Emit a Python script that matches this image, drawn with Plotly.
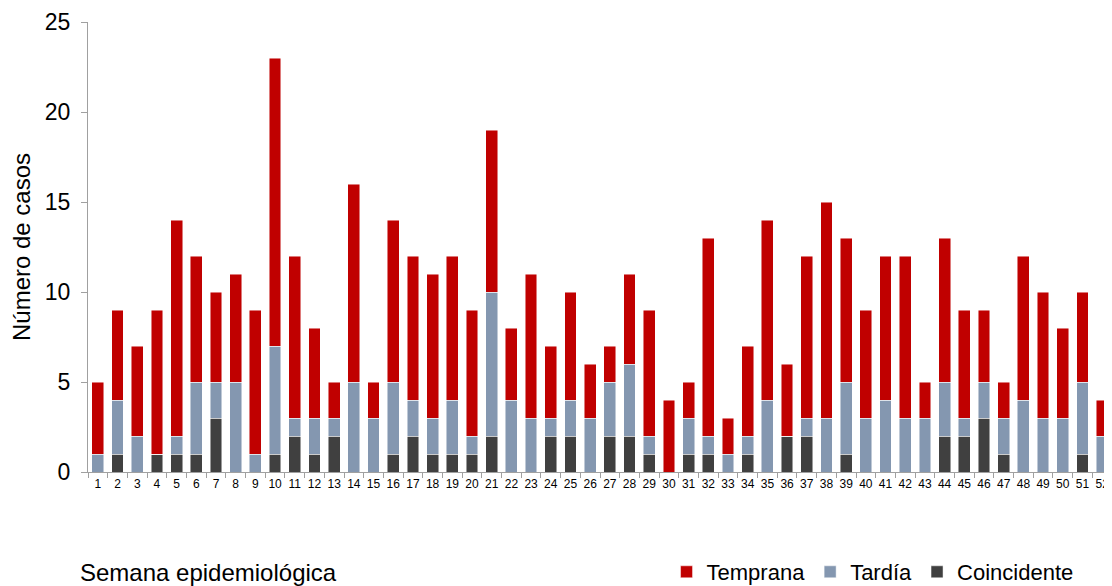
import plotly.graph_objects as go

weeks = [str(i) for i in range(1, 53)]
coincidente = [0,1,0,1,1,1,3,0,0,1,2,1,2,0,0,1,2,1,1,1,2,0,0,2,2,0,2,2,1,0,
               1,1,0,1,0,2,2,0,1,0,0,0,0,2,2,3,1,0,0,0,1,0]
tardia = [1,3,2,0,1,4,2,5,1,6,1,2,1,5,3,4,2,2,3,1,8,4,3,1,2,3,3,4,1,0,
          2,1,1,1,4,0,1,3,4,3,4,3,3,3,1,2,2,4,3,3,4,2]
temprana = [4,5,5,8,12,7,5,6,8,16,9,5,2,11,2,9,8,8,8,7,9,4,8,4,6,3,2,5,7,4,
            2,11,2,5,10,4,9,12,8,6,8,9,2,8,6,4,2,8,7,5,5,2]

FONT = "Liberation Sans, Arial, sans-serif"
line = dict(color="rgba(255,255,255,0.6)", width=0.8)

W, H = 1104, 578
L, T, B = 80, 14, 114
PH = H - T - B

fig = go.Figure()
fig.add_trace(go.Bar(x=weeks, y=coincidente, name="Coincidente",
                     marker=dict(color="#404040", line=line)))
fig.add_trace(go.Bar(x=weeks, y=tardia, name="Tardía",
                     marker=dict(color="#8497B0", line=line)))
fig.add_trace(go.Bar(x=weeks, y=temprana, name="Temprana",
                     marker=dict(color="#C00000", line=line)))

fig.update_layout(
    barmode="stack",
    bargap=0.4,
    width=W, height=H,
    margin=dict(l=L, r=0, t=T, b=B, autoexpand=False),
    paper_bgcolor="white", plot_bgcolor="white",
    font=dict(family=FONT, color="#000000"),
    showlegend=True,
    legend=dict(orientation="h", traceorder="reversed",
                xref="container", x=0.5965, xanchor="left",
                yref="container", y=(H - 564) / H, yanchor="middle",
                font=dict(size=22, family=FONT),
                itemwidth=30, bgcolor="rgba(0,0,0,0)"),
    xaxis=dict(type="category", showline=True, linecolor="#A0A0A0", linewidth=1.3,
               ticks="outside", tickson="boundaries", ticklen=5, tickcolor="#A0A0A0",
               tickangle=0,
               tickfont=dict(size=12, family=FONT), showgrid=False, zeroline=False),
    yaxis=dict(range=[0, 25], dtick=5, showline=True, linecolor="#A0A0A0", linewidth=1.3,
               ticks="outside", ticklen=6, tickcolor="#A0A0A0", ticklabelstandoff=6,
               ticklabeloverflow="allow",
               tickfont=dict(size=23, family=FONT), showgrid=False, zeroline=False,
               title=dict(text="Número de casos", font=dict(size=24, family=FONT), standoff=13)),
    annotations=[dict(text="Semana epidemiológica", xref="paper", yref="paper",
                      x=-0.0098, xanchor="left", y=-(564 - (T + PH)) / PH, yanchor="middle",
                      showarrow=False, font=dict(size=24, family=FONT))],
)

fig.write_html("out.html")
